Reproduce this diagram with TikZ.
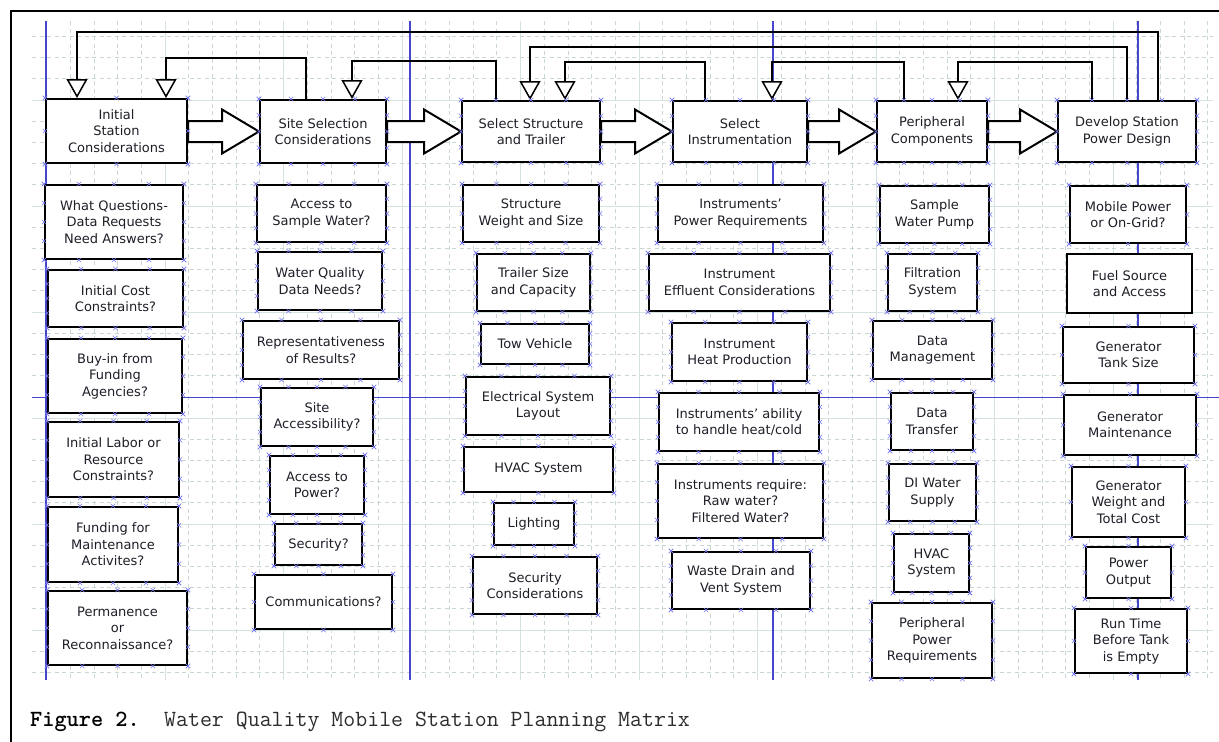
\documentclass[tikz,border=0pt]{standalone}
\usepackage{fontspec}
\setmainfont{DejaVu Sans}
\usetikzlibrary{calc,arrows.meta}
\definecolor{gridminor}{RGB}{200,214,214}
\definecolor{gridmajor}{RGB}{212,226,226}
\definecolor{guide}{RGB}{70,70,205}
\definecolor{xmcol}{RGB}{120,120,235}
\definecolor{txt}{RGB}{30,30,40}
\definecolor{captxt}{RGB}{45,45,45}
\tikzset{
  box/.style={draw=black, line width=2pt, fill=white, inner sep=0pt, align=center,
    font=\fontsize{13}{16.5}\selectfont, text=txt},
  barrow/.style={draw=black, line width=2pt, fill=white, line join=miter},
  fb/.style={draw=black, line width=2pt,
    -{Triangle[fill=white, width=21pt, length=19pt, line width=1.5pt]}},
  gridmin/.style={draw=gridminor, line width=0.8pt, dash pattern=on 4pt off 3.5pt},
  gridmaj/.style={draw=gridmajor, line width=1pt},
  guideline/.style={draw=guide, line width=1.1pt},
  xmk/.style={draw=xmcol, line width=0.6pt},
}
\newcommand\bx[7][]{\node[box,#1,minimum width={#5-#3},minimum height={#6-#4}] (#2) at ({(#3+#5)/2},{(#4+#6)/2}) {#7};}
\newcommand\xm[2]{%
  \foreach \i in {0,...,#2}{%
    \pgfmathsetmacro\tt{\i/#2}%
    \foreach \p/\q in {north west/north east,south west/south east,north west/south west,north east/south east}{%
      \draw[xmk] ($(#1.\p)!\tt!(#1.\q)$) +(-2.2,-2.2) -- +(2.2,2.2) +(-2.2,2.2) -- +(2.2,-2.2);
    }}}
\newcommand\blockarrow[2]{%
  \draw[barrow] ($(#1.east |- #2.west)+(0,-10.5)$) -- ($(#2.west)+(-37,-10.5)$)
    -- ($(#2.west)+(-37,-22)$) -- (#2.west) -- ($(#2.west)+(-37,22)$)
    -- ($(#2.west)+(-37,10.5)$) -- ($(#1.east |- #2.west)+(0,10.5)$) -- cycle;}
\begin{document}
\begin{tikzpicture}[x=1pt,y=-1pt]
\useasboundingbox (0,0) rectangle (1219,742);
\fill[white] (0,0) rectangle (1219,742);
% grid
\foreach \k in {0,...,49}{%
  \pgfmathsetmacro\gx{46.5+23.7*\k}%
  \pgfmathtruncatemacro\m{mod(\k,5)}%
  \ifnum\m=0 \draw[gridmaj] (\gx,21) -- (\gx,680);\else \draw[gridmin] (\gx,21) -- (\gx,680);\fi
}
\foreach \j in {-3,...,27}{%
  \pgfmathsetmacro\gy{100+21.2*\j}%
  \pgfmathtruncatemacro\m{mod(abs(\j),5)}%
  \ifnum\m=0 \draw[gridmaj] (32,\gy) -- (1213,\gy);\else\ifnum\j=14\relax\else \draw[gridmin] (32,\gy) -- (1213,\gy);\fi\fi
}
% blue guides
\foreach \gx in {46,410,773,1138}{\draw[guideline] (\gx,21) -- (\gx,680);}
\draw[guideline] (32,397.5) -- (1219,397.5);
% frame
\draw[line width=2pt] (11,742) -- (11,11) -- (1219,11);
% header boxes
\bx{init}{46}{99}{187}{163}{Initial\\Station\\Considerations}
\bx{site}{260}{100}{386}{163}{Site Selection\\Considerations}
\bx{sst}{462}{101}{600}{162}{Select Structure\\and Trailer}
\bx{ins}{673}{101}{807}{162}{Select\\Instrumentation}
\bx{per}{877}{101}{987}{162}{Peripheral\\Components}
\bx{dev}{1058}{101}{1196}{162}{Develop Station\\Power Design}
% column 1
\bx{c1a}{45}{185}{183}{259}{What Questions-\\Data Requests\\Need Answers?}
\bx{c1b}{48}{270}{183}{327}{Initial Cost\\Constraints?}
\bx{c1c}{48}{339}{182}{413}{Buy-in from\\Funding\\Agencies?}
\bx{c1d}{48}{422}{179}{497}{Initial Labor or\\Resource\\Constraints?}
\bx{c1e}{48}{507}{178}{582}{Funding for\\Maintenance\\Activites?}
\bx{c1f}{48}{591}{187}{665}{Permanence\\or\\Reconnaissance?}
% column 2
\bx{c2a}{257}{185}{386}{242}{Access to\\Sample Water?}
\bx{c2b}{258}{252}{382}{310}{Water Quality\\Data Needs?}
\bx{c2c}{243}{321}{399}{379}{Representativeness\\of Results?}
\bx{c2d}{261}{388}{373}{446}{Site\\Accessibility?}
\bx{c2e}{270}{456}{364}{514}{Access to\\Power?}
\bx{c2f}{275}{524}{362}{565}{Security?}
\bx{c2g}{255}{575}{392}{629}{Communications?}
% column 3
\bx{c3a}{463}{185}{599}{242}{Structure\\Weight and Size}
\bx{c3b}{477}{254}{590}{311}{Trailer Size\\and Capacity}
\bx{c3c}{481}{324}{589}{364}{Tow Vehicle}
\bx{c3d}{466}{377}{610}{435}{Electrical System\\Layout}
\bx{c3e}{464}{447}{613}{492}{HVAC System}
\bx{c3f}{494}{503}{574}{545}{Lighting}
\bx{c3g}{473}{557}{597}{614}{Security\\Considerations}
% column 4
\bx{c4a}{658}{185}{823}{242}{Instruments’\\Power Requirements}
\bx{c4b}{649}{254}{830}{311}{Instrument\\Effluent Considerations}
\bx{c4c}{672}{323}{807}{381}{Instrument\\Heat Production}
\bx{c4d}{659}{393}{819}{451}{Instruments’ ability\\to handle heat/cold}
\bx{c4e}{658}{464}{823}{538}{Instruments require:\\Raw water?\\Filtered Water?}
\bx{c4f}{672}{552}{810}{609}{Waste Drain and\\Vent System}
% column 5
\bx{c5a}{880}{186}{989}{243}{Sample\\Water Pump}
\bx{c5b}{888}{254}{977}{311}{Filtration\\System}
\bx{c5c}{873}{321}{992}{379}{Data\\Management}
\bx{c5d}{891}{393}{973}{450}{Data\\Transfer}
\bx{c5e}{889}{464}{976}{521}{DI Water\\Supply}
\bx{c5f}{894}{534}{969}{592}{HVAC\\System}
\bx{c5g}{872}{603}{992}{678}{Peripheral\\Power\\Requirements}
% column 6
\bx{c6a}{1070}{186}{1186}{243}{Mobile Power\\or On-Grid?}
\bx[line width=2.6pt]{c6b}{1067}{254}{1192}{313}{Fuel Source\\and Access}
\bx{c6c}{1063}{327}{1194}{383}{Generator\\Tank Size}
\bx{c6d}{1064}{395}{1196}{455}{Generator\\Maintenance}
\bx{c6e}{1072}{467}{1185}{537}{Generator\\Weight and\\Total Cost}
\bx{c6f}{1086}{547}{1171}{598}{Power\\Output}
\bx{c6g}{1075}{609}{1187}{673}{Run Time\\Before Tank\\is Empty}
% block arrows
\blockarrow{init}{site}
\blockarrow{site}{sst}
\blockarrow{sst}{ins}
\blockarrow{ins}{per}
\blockarrow{per}{dev}
% feedback connectors
\coordinate (a1) at ($(dev.north west)+(101,0)$);
\coordinate (a2) at ($(init.north west)+(32,0)$);
\draw[fb] (a1) -- (a1 |- 0,32) -- (a2 |- 0,32) -- (a2);
\coordinate (b1) at ($(dev.north west)+(70,0)$);
\coordinate (b2) at ($(sst.north west)+(69,0)$);
\draw[fb] (b1) -- (b1 |- 0,47) -- (b2 |- 0,47) -- (b2);
\coordinate (c1) at ($(per.north west)+(28,0)$);
\coordinate (c2) at ($(ins.north west)+(100,0)$);
\draw[fb] (c1) -- (c1 |- 0,62) -- (c2 |- 0,62) -- (c2);
\coordinate (d1) at ($(dev.north west)+(35,0)$);
\coordinate (d2) at ($(per.north west)+(82,0)$);
\draw[fb] (d1) -- (d1 |- 0,62) -- (d2 |- 0,62) -- (d2);
\coordinate (e1) at ($(ins.north west)+(33,0)$);
\coordinate (e2) at ($(sst.north west)+(104,0)$);
\draw[fb] (e1) -- (e1 |- 0,62) -- (e2 |- 0,62) -- (e2);
\coordinate (f1) at ($(site.north west)+(47,0)$);
\coordinate (f2) at ($(init.north west)+(121,0)$);
\draw[fb] (f1) -- (f1 |- 0,58) -- (f2 |- 0,58) -- (f2);
\coordinate (g1) at ($(sst.north west)+(35,0)$);
\coordinate (g2) at ($(site.north west)+(93,0)$);
\draw[fb] (g1) -- (g1 |- 0,61) -- (g2 |- 0,61) -- (g2);
% connection markers
\foreach \n in {init,c2g,c3e,c6a,c6c,c6d,c6e,c6f,c6g}{\xm{\n}{2}}
\foreach \n in {site,sst,ins,per,dev,c1a,c1b,c1c,c1d,c1e,c1f,c2a,c2b,c2c,c2d,c2e,c2f,
  c3a,c3b,c3c,c3d,c3f,c3g,c4a,c4b,c4c,c4d,c4e,c4f,c5a,c5b,c5c,c5d,c5e,c5f,c5g}{\xm{\n}{4}}
% caption
\node[anchor=base west, inner sep=0pt, font=\ttfamily\bfseries\fontsize{23.2}{24}\selectfont] (fig) at (30,726) {Figure 2.};
\node[anchor=base west, inner sep=0pt, text=captxt, font=\ttfamily\fontsize{23.2}{24}\selectfont] (title) at (164,726) {Water Quality Mobile Station Planning Matrix};
\end{tikzpicture}
\end{document}
